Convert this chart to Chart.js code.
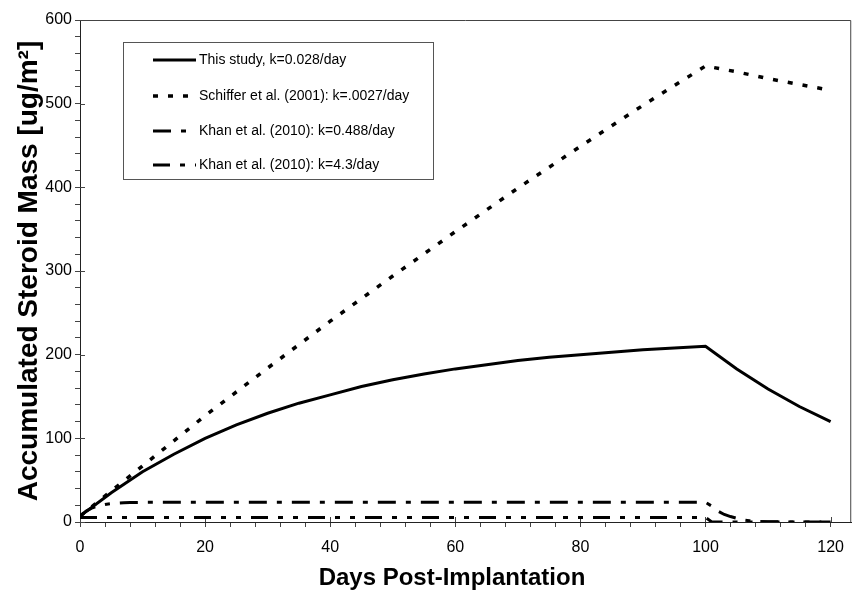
<!DOCTYPE html>
<html>
<head>
<meta charset="utf-8">
<script src="https://cdn.jsdelivr.net/npm/chart.js@4.4.1/dist/chart.umd.min.js"></script>
<style>
  html, body { margin: 0; padding: 0; background: #fff; }
  #wrap { width: 855px; height: 591px; }
</style>
</head>
<body>
<div id="wrap"><canvas id="c" width="855" height="591"></canvas></div>
<script>
// ---- data ----
const seriesLabels = [
  'This study, k=0.028/day',
  'Schiffer et al. (2001): k=.0027/day',
  'Khan et al. (2010): k=0.488/day',
  'Khan et al. (2010): k=4.3/day'
];

const studyDays = [0,5,10,15,20,25,30,35,40,45,50,55,60,65,70,75,80,85,90,95,100,105,110,115,120];
const studyMass = [7,35,60,81,100,116,130,142,152,162,170,177,183,188,193,197,200,203,206,208,210,183,159,138,120];

const schifferDays = [0,10,20,30,40,50,60,70,80,90,100,105,110,115,120];
const schifferMass = [7,67,127,184,240,294,347,399,449,498,545,538,530,523,516];

const khan1Days = [0,1,2,3,4,5,6,7,8,10,15,100,101,102,103,104,105,106,107,108,110,115,120];
const khan1Mass = [7,13,17,19.5,21,22,22.5,23,23.3,23.5,23.5,23.5,19,13,9,6.5,4.5,2.5,1.5,0.8,0.3,0,0];

const khan2Days = [0,100,101,102,120];
const khan2Mass = [5.5,5.5,0.1,0,0];

const xTickLabels = [0,20,40,60,80,100,120];
const yTickLabels = [0,100,200,300,400,500,600];
const xTitle = 'Days Post-Implantation';
const yTitle = 'Accumulated Steroid Mass [ug/m²]';

const FONT = "'Liberation Sans', Arial, Helvetica, sans-serif";

function pts(xs, ys) { return xs.map((x, i) => ({ x: x, y: ys[i] })); }

const legendBox = {
  id: 'legendBox',
  afterDatasetsDraw(chart) {
    const ctx = chart.ctx;
    ctx.save();
    const bx = 123.5, by = 42.5, bw = 310, bh = 137;
    ctx.strokeStyle = '#555';
    ctx.lineWidth = 1;
    ctx.setLineDash([]);
    ctx.fillStyle = '#fff';
    ctx.fillRect(bx, by, bw, bh);
    ctx.strokeRect(bx, by, bw, bh);
    const rowY = [60, 96, 131, 165];
    chart.data.datasets.forEach((ds, i) => {
      const y = rowY[i];
      ctx.beginPath();
      ctx.setLineDash(ds.borderDash || []);
      ctx.lineWidth = ds.borderWidth;
      ctx.strokeStyle = ds.borderColor;
      ctx.lineCap = 'butt';
      ctx.moveTo(153, y);
      ctx.lineTo(196, y);
      ctx.stroke();
      ctx.setLineDash([]);
      ctx.fillStyle = '#000';
      ctx.font = '14px ' + FONT;
      ctx.textBaseline = 'middle';
      ctx.textAlign = 'left';
      ctx.fillText(ds.label, 199, y);
    });
    ctx.restore();
  }
};

const frame = {
  id: 'frame',
  beforeDatasetsDraw(chart) {
    const a = chart.chartArea, ctx = chart.ctx;
    ctx.save();
    ctx.strokeStyle = '#444';
    ctx.lineWidth = 1;
    ctx.beginPath();
    ctx.moveTo(a.left, a.top + 0.5);
    ctx.lineTo(a.right - 0.5, a.top + 0.5);
    ctx.lineTo(a.right - 0.5, a.bottom);
    ctx.stroke();
    // inner part of the major ticks
    const xs = chart.scales.x, ys = chart.scales.y;
    ctx.beginPath();
    xTickLabels.forEach(v => {
      const px = Math.round(xs.getPixelForValue(v)) + 0.5;
      ctx.moveTo(px, a.bottom);
      ctx.lineTo(px, a.bottom - 5);
    });
    yTickLabels.forEach(v => {
      const py = Math.round(ys.getPixelForValue(v)) + 0.5;
      ctx.moveTo(a.left, py);
      ctx.lineTo(a.left + 5, py);
    });
    ctx.stroke();
    // x axis title
    ctx.fillStyle = '#000';
    ctx.font = 'bold 24px ' + FONT;
    ctx.textAlign = 'center';
    ctx.textBaseline = 'middle';
    ctx.fillText(xTitle, 452, 578);
    ctx.restore();
  }
};

new Chart(document.getElementById('c'), {
  type: 'line',
  data: {
    datasets: [
      { label: seriesLabels[0], data: pts(studyDays, studyMass), borderColor: '#000', borderWidth: 3, borderDash: [] },
      { label: seriesLabels[1], data: pts(schifferDays, schifferMass), borderColor: '#000', borderWidth: 3.5, borderDash: [5, 10] },
      { label: seriesLabels[2], data: pts(khan1Days, khan1Mass), borderColor: '#000', borderWidth: 3, borderDash: [18, 10, 5, 10] },
      { label: seriesLabels[3], data: pts(khan2Days, khan2Mass), borderColor: '#000', borderWidth: 3, borderDash: [17, 10, 5, 10, 5, 10] }
    ]
  },
  options: {
    responsive: false,
    animation: false,
    layout: { padding: { top: 20, right: 2, left: 0, bottom: 0 } },
    elements: { point: { radius: 0 }, line: { tension: 0, fill: false } },
    plugins: { legend: { display: false }, tooltip: { enabled: false } },
    scales: {
      x: {
        type: 'linear', min: 0, max: 123.3,
        afterFit: s => { s.height = 69; },
        ticks: {
          stepSize: 4, autoSkip: false, maxRotation: 0, includeBounds: false,
          color: '#000', padding: 11,
          font: { size: 16, family: FONT },
          callback: v => xTickLabels.includes(v) ? String(v) : ''
        },
        grid: { drawOnChartArea: false, tickLength: 5, color: '#444' },
        border: { color: '#222', width: 1 },
        title: { display: false }
      },
      y: {
        type: 'linear', min: 0, max: 600,
        afterFit: s => { s.width = 80; },
        ticks: {
          stepSize: 20, autoSkip: false, includeBounds: false,
          color: '#000', padding: 3,
          font: { size: 16, family: FONT },
          callback: v => yTickLabels.includes(v) ? String(v) : ''
        },
        grid: { drawOnChartArea: false, tickLength: 5, color: '#444' },
        border: { color: '#222', width: 1 },
        title: { display: true, text: yTitle, color: '#000',
          font: { size: 28, weight: 'bold', family: FONT }, padding: { top: 12, bottom: 0 } }
      }
    }
  },
  plugins: [frame, legendBox]
});
</script>
</body>
</html>
